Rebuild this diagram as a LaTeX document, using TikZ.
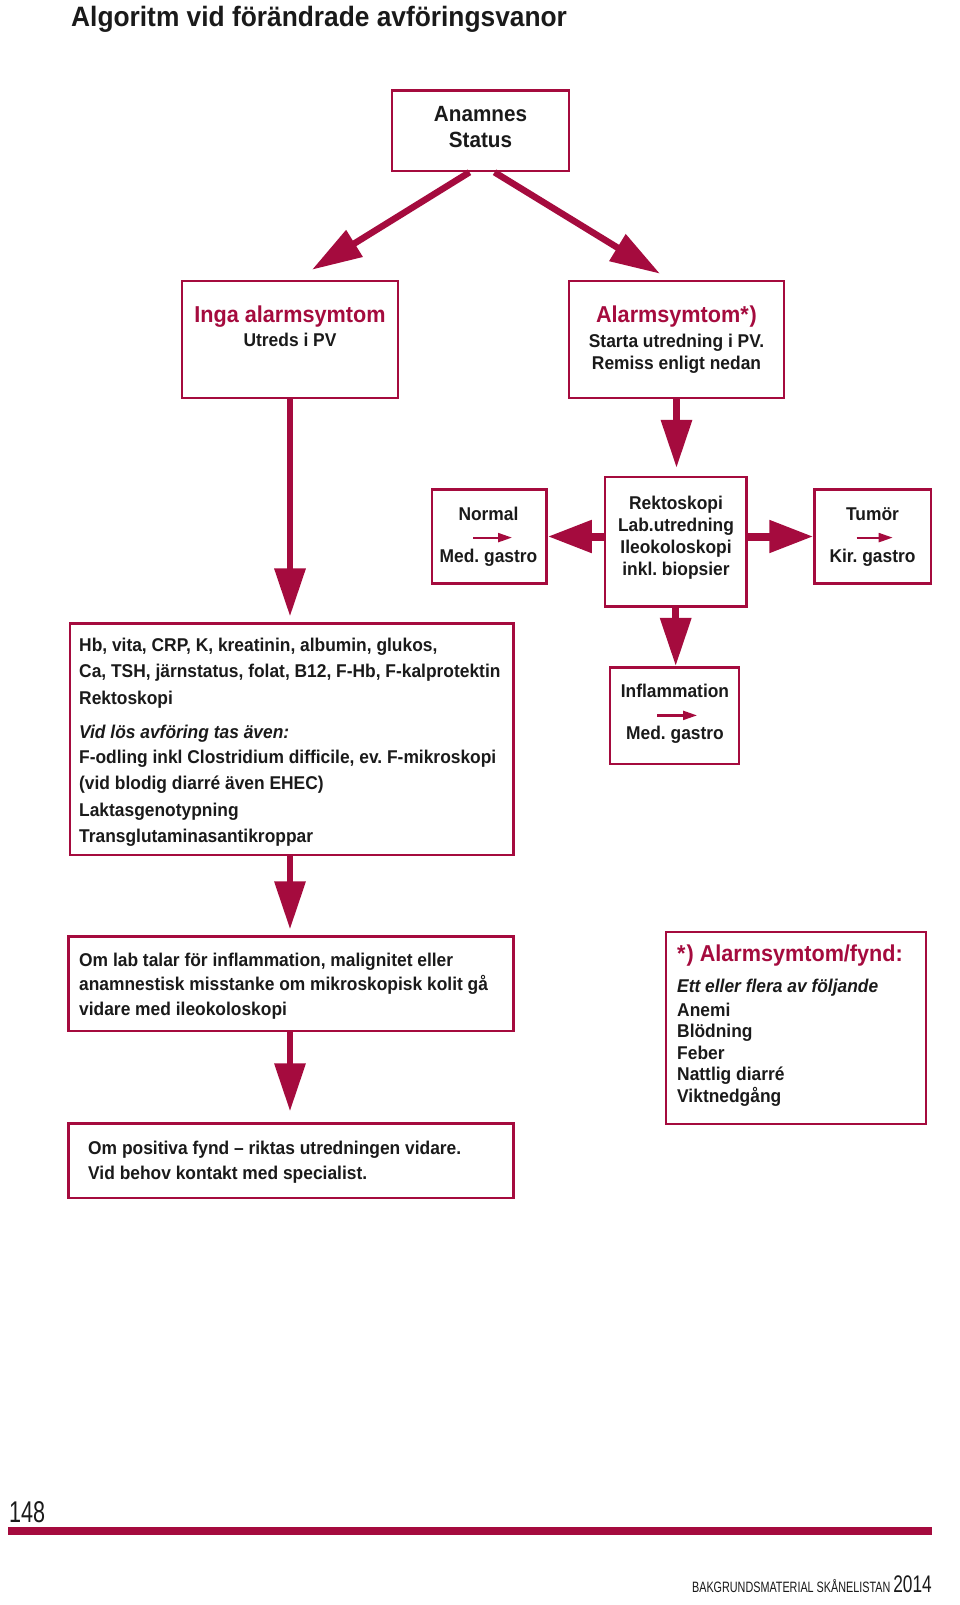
\documentclass[tikz,border=0pt]{standalone}
\usepackage{fontspec}
\setmainfont{Liberation Sans}[FakeStretch=0.94]
\newfontfamily\footfont{Liberation Sans}[FakeStretch=0.72]
\usetikzlibrary{arrows.meta}
\definecolor{crim}{HTML}{A50B3E}
\definecolor{ink}{HTML}{1A1A1A}
\frenchspacing
\begin{document}
\begin{tikzpicture}[x=1pt,y=-1pt,
  box/.style={draw=crim, line width=2.6pt, inner sep=0pt},
  txt/.style={inner sep=0pt, text=ink, font=\bfseries\fontsize{18.5}{22}\selectfont},
  tl/.style={txt, anchor=base west},
  tc/.style={txt, anchor=base},
  itl/.style={tl, font=\bfseries\itshape\fontsize{18.5}{22}\selectfont},
  bigc/.style={tc, font=\bfseries\fontsize{22}{26}\selectfont},
  redc/.style={tc, text=crim, font=\bfseries\fontsize{23}{27}\selectfont},
  redl/.style={tl, text=crim, font=\bfseries\fontsize{23}{27}\selectfont},
  varrow/.style={draw=crim, line width=6.5pt, -{Triangle[length=48pt,width=30pt]}},
  harrow/.style={draw=crim, line width=8pt, -{Triangle[length=44pt,width=31pt]}},
  darrow/.style={draw=crim, line width=6.5pt, -{Triangle[length=50pt,width=30pt]}},
  sarrow/.style={draw=crim, line width=2.2pt, -{Triangle[length=14pt,width=9pt]}}
]
\useasboundingbox[fill=white] (0,0) rectangle (960,1605);

% title
\node[tl, font=\bfseries\fontsize{28}{32}\selectfont] (title) at (71,27) {Algoritm vid förändrade avföringsvanor};

% boxes
\node[box, minimum width=177pt, minimum height=80.5pt] (anam) at (480.5,130.7) {};
\node[box, minimum width=216pt, minimum height=117pt] (inga) at (290,339.5) {};
\node[box, minimum width=215pt, minimum height=117pt] (alarm) at (676.5,339.5) {};
\node[box, minimum width=114.5pt, minimum height=94.3pt] (normal) at (489.2,536.5) {};
\node[box, minimum width=141.5pt, minimum height=129.5pt] (rekto) at (675.7,541.8) {};
\node[box, minimum width=116.4pt, minimum height=94.3pt] (tumor) at (872.8,536.5) {};
\node[box, minimum width=129pt, minimum height=96.7pt] (infl) at (674.5,715.6) {};
\node[box, minimum width=443.5pt, minimum height=231.3pt] (hb) at (291.75,739.35) {};
\node[box, minimum width=445.5pt, minimum height=94.4pt] (omlab) at (291,983.8) {};
\node[box, minimum width=445.5pt, minimum height=74.4pt] (ompos) at (291,1160.8) {};
\node[box, minimum width=260pt, minimum height=192pt] (alist) at (796,1028) {};

% texts
\node[bigc] (t-anam1) at (480.5,122) {Anamnes};
\node[bigc] (t-anam2) at (480.5,148) {Status};

\node[redc] (t-inga1) at (290,322) {Inga alarmsymtom};
\node[tc] (t-inga2) at (290,346) {Utreds i PV};

\node[redc] (t-al1) at (676.5,322) {Alarmsymtom*\kern1pt)};
\node[tc] (t-al2) at (676.5,347.5) {Starta utredning i PV.};
\node[tc] (t-al3) at (676.5,369.5) {Remiss enligt nedan};

\node[tc] (t-n1) at (488.5,520.3) {Normal};
\node[tc] (t-n2) at (488.5,562) {Med. gastro};
\coordinate (na1) at (473,537.6);
\coordinate (na2) at (512,537.6);

\node[tc] (t-r1) at (676,509) {Rektoskopi};
\node[tc] (t-r2) at (676,531) {Lab.utredning};
\node[tc] (t-r3) at (676,553) {Ileokoloskopi};
\node[tc] (t-r4) at (676,575) {inkl. biopsier};

\node[tc] (t-t1) at (872.5,520.3) {Tumör};
\node[tc] (t-t2) at (872.5,562) {Kir. gastro};
\coordinate (ta1) at (856.6,537.6);
\coordinate (ta2) at (892.7,537.6);

\node[tc] (t-i1) at (675,697.6) {Inflammation};
\node[tc] (t-i2) at (675,739.8) {Med. gastro};
\coordinate (ia1) at (657,715.4);
\coordinate (ia2) at (697,715.4);

\node[tl] (hb1) at (79,651) {Hb, vita, CRP, K, kreatinin, albumin, glukos,};
\node[tl] (hb2) at (79,677) {Ca, TSH, järnstatus, folat, B12, F-Hb, F-kalprotektin};
\node[tl] (hb3) at (79,704) {Rektoskopi};
\node[itl] (hb4) at (79,738) {Vid lös avföring tas även:};
\node[tl] (hb5) at (79,763.5) {F-odling inkl Clostridium difficile, ev. F-mikroskopi};
\node[tl] (hb6) at (79,789.5) {(vid blodig diarré även EHEC)};
\node[tl] (hb7) at (79,816.5) {Laktasgenotypning};
\node[tl] (hb8) at (79,842) {Transglutaminasantikroppar};

\node[tl] (ol1) at (79,966) {Om lab talar för inflammation, malignitet eller};
\node[tl] (ol2) at (79,990.5) {anamnestisk misstanke om mikroskopisk kolit gå};
\node[tl] (ol3) at (79,1015) {vidare med ileokoloskopi};

\node[tl] (op1) at (88,1154.5) {Om positiva fynd – riktas utredningen vidare.};
\node[tl] (op2) at (88,1179) {Vid behov kontakt med specialist.};

\node[redl] (al0) at (677,961) {*\kern1pt) Alarmsymtom/fynd:};
\node[itl] (al1) at (677,992) {Ett eller flera av följande};
\node[tl] (al2) at (677,1016) {Anemi};
\node[tl] (al3) at (677,1037.5) {Blödning};
\node[tl] (al4) at (677,1059) {Feber};
\node[tl] (al5) at (677,1080.5) {Nattlig diarré};
\node[tl] (al6) at (677,1102) {Viktnedgång};

% connectors
\draw[darrow] ([xshift=-11pt]anam.south) -- ([xshift=22pt,yshift=10pt]inga.north);
\draw[darrow] ([xshift=14pt]anam.south) -- ([xshift=-16.5pt,yshift=6pt]alarm.north);
\draw[varrow] (inga.south) -- ([yshift=6pt]inga.south |- hb.north);
\draw[varrow] (alarm.south) -- ([yshift=8pt]alarm.south |- rekto.north);
\draw[harrow] (rekto.west |- normal.center) -- (normal.east);
\draw[harrow] (rekto.east |- tumor.center) -- (tumor.west);
\draw[varrow] (rekto.south) -- (rekto.south |- infl.north);
\draw[varrow] (hb.south -| inga.south) -- ([yshift=6pt]inga.south |- omlab.north);
\draw[varrow] (omlab.south -| inga.south) -- ([yshift=11pt]inga.south |- ompos.north);
\draw[sarrow] (na1) -- (na2);
\draw[sarrow] (ta1) -- (ta2);
\draw[sarrow] (ia1) -- (ia2);

% footer
\node[anchor=base west, inner sep=0pt, text=ink, font=\footfont\fontsize{30}{30}\selectfont] (page) at (9,1522) {148};
\fill[crim] (8,1527) rectangle (932,1535);
\node[anchor=base east, inner sep=0pt, text=ink, font=\footfont\fontsize{15}{15}\selectfont] (foot) at (932,1592) {BAKGRUNDSMATERIAL SKÅNELISTAN {\fontsize{24}{24}\selectfont 2014}};
\end{tikzpicture}
\end{document}
